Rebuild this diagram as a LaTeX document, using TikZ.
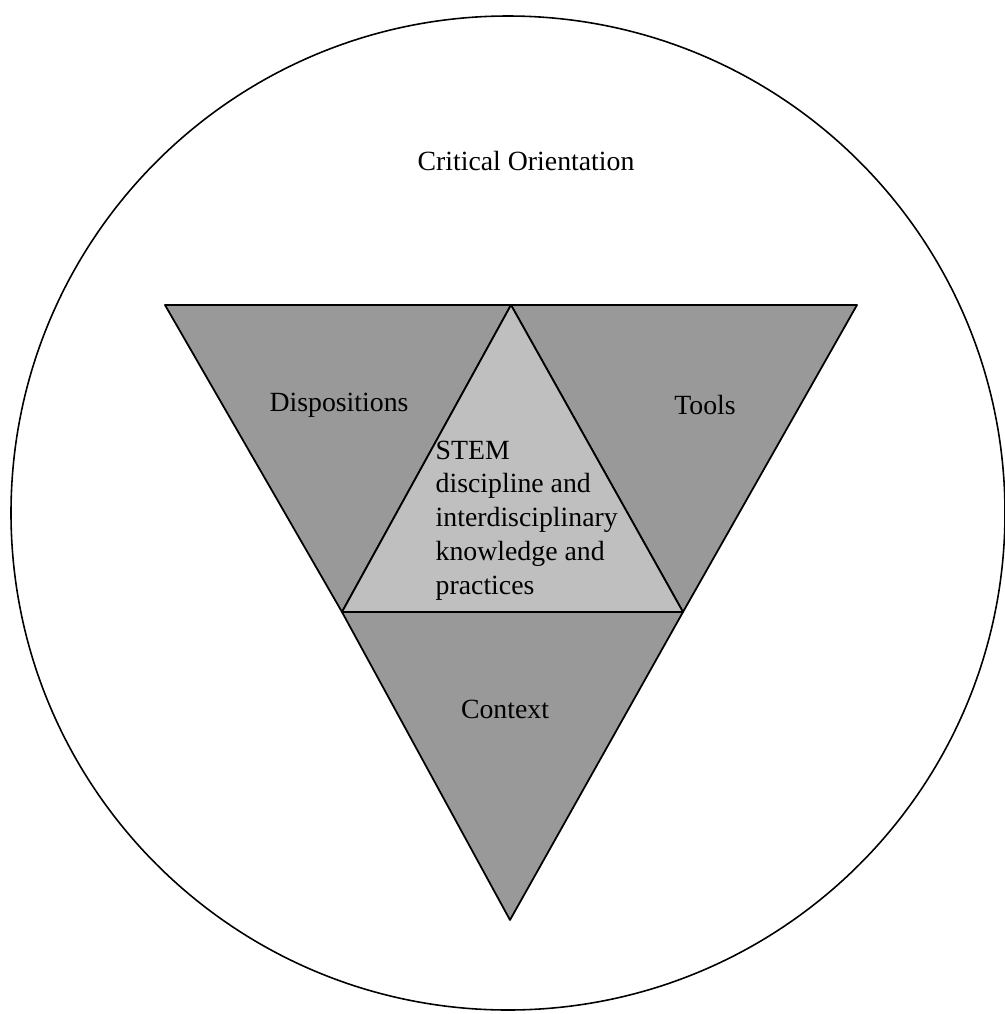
\documentclass[tikz,border=0pt]{standalone}
\usepackage{fontspec}
\setmainfont{Liberation Serif}
\begin{document}
\begin{tikzpicture}[x=0.01cm, y=-0.01cm,
  outer/.style={fill=gray!80, draw=black, line width=0.5pt, line join=round},
  inner/.style={fill=gray!50, draw=black, line width=0.5pt, line join=round},
  lbl/.style={font=\fontsize{7.9}{9.6}\selectfont, inner sep=0pt}]
\useasboundingbox (0,0) rectangle (1005,1014);

\coordinate (tl) at (165,305);
\coordinate (tm) at (511,305);
\coordinate (tr) at (857,305);
\coordinate (ml) at (342,612);
\coordinate (mr) at (683,612);
\coordinate (bm) at (510,920);

\draw[line width=0.45pt] (508,513) circle [radius=497];

\filldraw[outer] (tl) -- (tm) -- (ml) -- cycle;
\filldraw[outer] (tm) -- (tr) -- (mr) -- cycle;
\filldraw[outer] (ml) -- (mr) -- (bm) -- cycle;
\filldraw[inner] (tm) -- (mr) -- (ml) -- cycle;

\node[lbl] (crit) at (526,161) {Critical Orientation};
\node[lbl] (disp) at (339,405) {Dispositions};
\node[lbl] (tools) at (705,405) {Tools};
\node[lbl] (ctx) at (505,709) {Context};
\node[lbl, anchor=north west, align=left] (stem) at (435,440)
  {STEM\\discipline and\\interdisciplinary\\knowledge and\\practices};
\end{tikzpicture}
\end{document}
